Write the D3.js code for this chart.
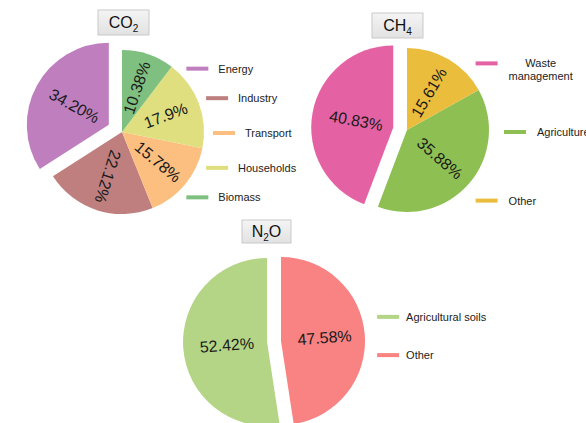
<!DOCTYPE html>
<html>
<head>
<meta charset="utf-8">
<script src="https://cdn.jsdelivr.net/npm/d3@7"></script>
<style>
  html, body { margin: 0; padding: 0; background: #fff; }
  svg { display: block; font-family: "Liberation Sans", Arial, sans-serif; }
</style>
</head>
<body>
<svg id="chart" width="586" height="423"></svg>
<script>
// ---- data ----
const co2Categories = ["Energy", "Industry", "Transport", "Households", "Biomass"];
const co2Values = [34.20, 22.12, 15.78, 17.9, 10.38];
const co2Labels = ["34.20%", "22.12%", "15.78%", "17.9%", "10.38%"];

const ch4Categories = ["Waste\nmanagement", "Agriculture", "Other"];
const ch4Values = [40.83, 35.88, 15.61];
const ch4Labels = ["40.83%", "35.88%", "15.61%"];

const n2oCategories = ["Agricultural soils", "Other"];
const n2oValues = [52.42, 47.58];
const n2oLabels = ["52.42%", "47.58%"];

// ---- styles ----
const co2Colors = ["#bf7fbf", "#bf7f7f", "#fdbf80", "#dfdf7f", "#7fbf7f"];
const ch4Colors = ["#e462a4", "#8dbf52", "#ebbd3d"];
const n2oColors = ["#b4d586", "#f98282"];

const svg = d3.select("#chart");

const defs = svg.append("defs");
const grad = defs.append("linearGradient").attr("id", "titleGrad")
  .attr("x1", 0).attr("y1", 0).attr("x2", 0).attr("y2", 1);
grad.append("stop").attr("offset", "0%").attr("stop-color", "#f4f4f4");
grad.append("stop").attr("offset", "100%").attr("stop-color", "#e2e2e2");

function drawPie(cfg) {
  const g = svg.append("g").attr("transform", `translate(${cfg.cx},${cfg.cy})`);
  const pie = d3.pie().sort(null).value(d => d)
    .startAngle(0).endAngle(-2 * Math.PI);
  const arcs = pie(cfg.values);
  const arc = d3.arc().innerRadius(0).outerRadius(cfg.r);

  const slices = g.selectAll("g.slice").data(arcs).join("g").attr("class", "slice")
    .attr("transform", d => {
      const m = (d.startAngle + d.endAngle) / 2;
      const e = cfg.explode[d.index] || 0;
      return `translate(${Math.sin(m) * e},${-Math.cos(m) * e})`;
    });

  slices.append("path")
    .attr("d", arc)
    .attr("fill", (d, i) => cfg.colors[i]);

  slices.append("text")
    .attr("transform", d => {
      const m = (d.startAngle + d.endAngle) / 2;
      const lr = (cfg.explode[d.index] ? cfg.pctExploded : cfg.pct) * cfg.r;
      const x = Math.sin(m) * lr, y = -Math.cos(m) * lr;
      let theta = 90 - m * 180 / Math.PI; // ccw from +x
      theta = ((theta % 360) + 360) % 360;
      if (theta > 90 && theta < 250) theta -= 180;
      return `translate(${x},${y}) rotate(${-theta})`;
    })
    .attr("text-anchor", "middle")
    .attr("dominant-baseline", "central")
    .attr("font-size", 16)
    .attr("fill", "#1a1a1a")
    .text((d, i) => cfg.labels[i]);

  // legend on an arc
  const n = cfg.categories.length;
  const lg = svg.append("g");
  cfg.categories.forEach((cat, i) => {
    const a = (n === 1 ? 0 : (-cfg.legSpan / 2 + i * cfg.legSpan / (n - 1))) * Math.PI / 180;
    const x0 = cfg.cx + cfg.legR * Math.cos(a);
    const y0 = cfg.cy + cfg.legDy + cfg.legR * Math.sin(a);
    lg.append("line")
      .attr("x1", x0).attr("x2", x0 + 22)
      .attr("y1", y0).attr("y2", y0)
      .attr("stroke", cfg.colors[i]).attr("stroke-width", 4);
    const lines = cat.split("\n");
    const t = lg.append("text")
      .attr("font-size", 11)
      .attr("fill", "#222")
      .attr("dominant-baseline", "central");
    if (lines.length === 1) {
      t.attr("x", x0 + 22 + cfg.legGap).attr("y", y0).text(cat);
    } else {
      lines.forEach((ln, k) => {
        t.append("tspan").attr("y", y0 + k * 13).text(ln);
      });
      let w = 0;
      t.selectAll("tspan").each(function () { w = Math.max(w, this.getComputedTextLength()); });
      t.attr("text-anchor", "middle");
      t.selectAll("tspan").attr("x", x0 + 22 + cfg.legGap + w / 2);
    }
  });

  // title box
  const tg = svg.append("g");
  tg.append("rect")
    .attr("x", cfg.title.x).attr("y", cfg.title.y)
    .attr("width", cfg.title.w).attr("height", cfg.title.h)
    .attr("fill", "url(#titleGrad)")
    .attr("stroke", "#c9c9c9").attr("stroke-width", 1);
  const tt = tg.append("text")
    .attr("x", cfg.title.x + cfg.title.w / 2)
    .attr("y", cfg.title.y + cfg.title.h / 2 + 5)
    .attr("text-anchor", "middle")
    .attr("font-size", 16)
    .attr("fill", "#111");
  cfg.title.parts.forEach(p => {
    if (p.sub) {
      tt.append("tspan").attr("font-size", 10).attr("dy", 4).text(p.t);
    } else {
      tt.append("tspan").attr("dy", p.after ? -4 : 0).text(p.t);
    }
  });
}

drawPie({
  cx: 122, cy: 132, r: 82,
  values: co2Values, labels: co2Labels, categories: co2Categories, colors: co2Colors,
  explode: [15, 0, 0, 0, 0], pct: 0.57, pctExploded: 0.48,
  legR: 91, legSpan: 90, legDy: 1, legGap: 10,
  title: { x: 98, y: 10, w: 51, h: 25, parts: [{ t: "CO" }, { t: "2", sub: true }] }
});

drawPie({
  cx: 407, cy: 130, r: 82,
  values: ch4Values, labels: ch4Labels, categories: ch4Categories, colors: ch4Colors,
  explode: [14, 0, 0], pct: 0.53, pctExploded: 0.46,
  legR: 97, legSpan: 90, legDy: 2, legGap: 11,
  title: { x: 372, y: 13, w: 51, h: 25, parts: [{ t: "CH" }, { t: "4", sub: true }] }
});

drawPie({
  cx: 281, cy: 341, r: 84,
  values: n2oValues, labels: n2oLabels, categories: n2oCategories, colors: n2oColors,
  explode: [14, 0], pct: 0.52, pctExploded: 0.48,
  legR: 98, legSpan: 22.5, legDy: -5, legGap: 7,
  title: { x: 242, y: 220, w: 49, h: 23, parts: [{ t: "N" }, { t: "2", sub: true }, { t: "O", after: true }] }
});
</script>
</body>
</html>
